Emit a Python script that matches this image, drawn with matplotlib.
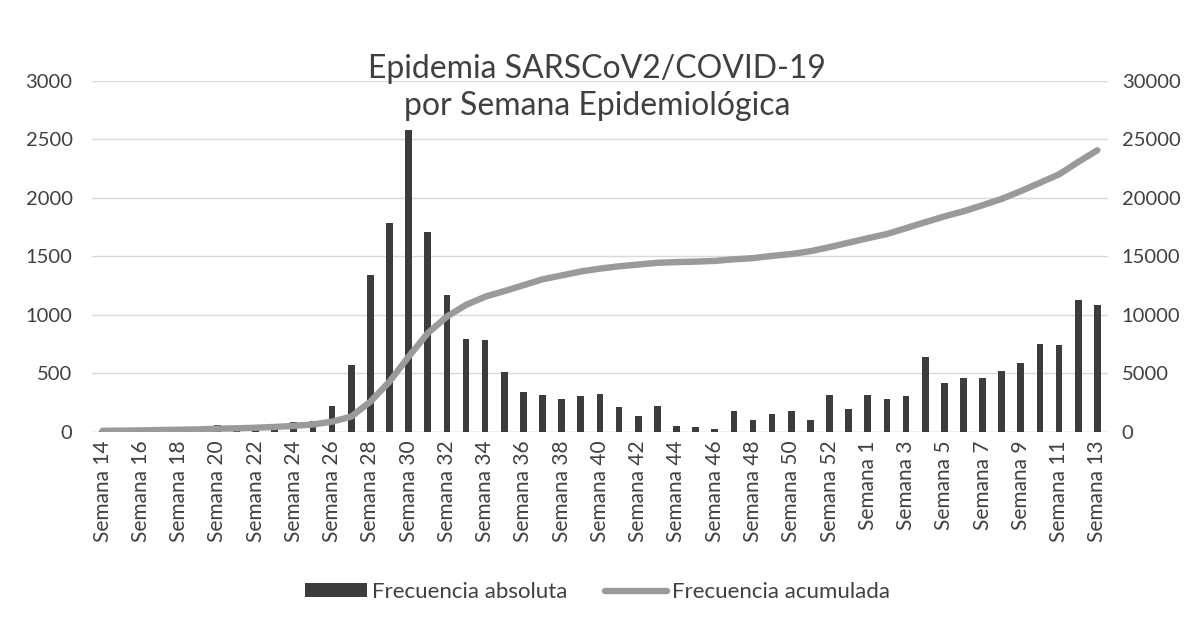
import matplotlib
matplotlib.use("Agg")
import matplotlib.pyplot as plt
import numpy as np

weeks = list(range(14, 54)) + list(range(1, 14))
categories = [f"Semana {w}" for w in weeks]

frecuencia_absoluta = [
    5, 8, 15, 35, 20, 25, 60, 30, 45, 68, 85, 96, 222,
    575, 1345, 1785, 2580, 1710, 1170, 795, 785, 510, 345,
    318, 285, 305, 325, 210, 140, 218, 52, 45, 25, 180, 105,
    155, 178, 100, 312, 200,
    320, 278, 306, 642, 420, 457, 463, 520, 592, 753, 742, 1132, 1082,
]

frecuencia_acumulada = [
    100, 110, 130, 165, 190, 215, 280, 310, 360, 430, 520, 640, 880,
    1310, 2590, 4300, 6440, 8440, 9860, 10860, 11560, 12040, 12540,
    13050, 13380, 13720, 13960, 14160, 14310, 14460, 14520, 14560, 14620,
    14760, 14860, 15050, 15210, 15450, 15800, 16180,
    16560, 16920, 17420, 17930, 18420, 18860, 19380, 19920, 20590,
    21300, 22020, 23080, 24080,
]

left_ticks = [0, 500, 1000, 1500, 2000, 2500, 3000]
right_ticks = [0, 5000, 10000, 15000, 20000, 25000, 30000]

plt.rcParams['font.family'] = ['Lato', 'DejaVu Sans']

fig = plt.figure(figsize=(11.9, 6.26), dpi=100)
ax = fig.add_axes([0.0773, 0.31, 0.8537, 0.5606])
ax2 = ax.twinx()

x = np.arange(len(categories))
bars = ax.bar(x, frecuencia_absoluta, width=0.35, color='#3c3c3c',
              label='Frecuencia absoluta', zorder=2)
line, = ax2.plot(x, frecuencia_acumulada, color='#9a9a9a', lw=4.6,
                 solid_capstyle='round', label='Frecuencia acumulada', zorder=3)

ax.set_xlim(-0.55, len(categories) - 0.45)
ax.set_ylim(0, 3000)
ax2.set_ylim(0, 30000)
ax.set_yticks(left_ticks)
ax2.set_yticks(right_ticks)
ax.set_yticklabels([str(t) for t in left_ticks], fontsize=14.5, color='#404040')
ax2.set_yticklabels([str(t) for t in right_ticks], fontsize=14.5, color='#404040')

ax.set_xticks(x[::2])
ax.set_xticklabels(categories[::2], rotation=90, fontsize=15, color='#404040')

ax.grid(axis='y', color='#d9d9d9', lw=1, zorder=0)
ax.set_axisbelow(True)
for a in (ax, ax2):
    for s in ('top', 'left', 'right', 'bottom'):
        a.spines[s].set_visible(False)
    a.tick_params(length=0)
ax.tick_params(axis='y', pad=14)
ax2.tick_params(axis='y', pad=10)
ax.tick_params(axis='x', pad=6)
ax.axhline(0, color='#d0d0d0', lw=1, zorder=1)

ax.set_zorder(ax2.get_zorder() - 1)
ax.patch.set_visible(True)
ax2.patch.set_visible(False)

fig.text(0.502, 0.889, 'Epidemia SARSCoV2/COVID-19', ha='center', va='center',
         fontsize=23, color='#404040')
fig.text(0.502, 0.830, 'por Semana Epidemiológica', ha='center', va='center',
         fontsize=23, color='#404040')

leg = fig.legend([bars, line], ['Frecuencia absoluta', 'Frecuencia acumulada'],
                 loc='center', bbox_to_anchor=(0.502, 0.054), ncol=2, frameon=False,
                 fontsize=16, handlelength=2.8, handleheight=0.6,
                 columnspacing=1.7, handletextpad=0.2)
for t in leg.get_texts():
    t.set_color('#404040')

fig.savefig('out.png', dpi=100)
